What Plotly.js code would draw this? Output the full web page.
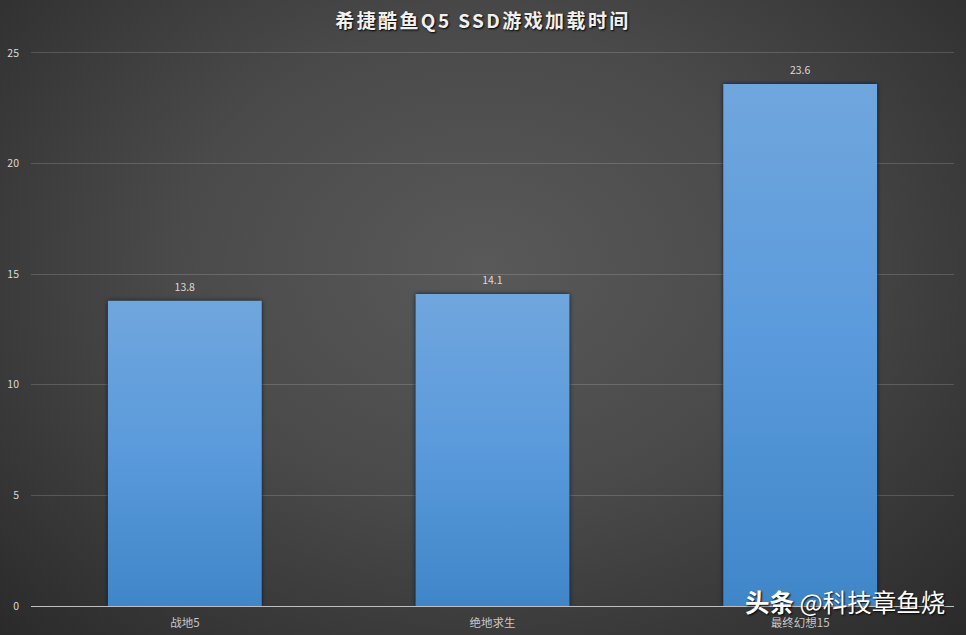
<!DOCTYPE html>
<html>
<head>
<meta charset="utf-8">
<script src="https://cdn.plot.ly/plotly-3.0.1.min.js"></script>
<style>
html,body{margin:0;padding:0;width:966px;height:635px;overflow:hidden;}
body{background:radial-gradient(ellipse farthest-corner at 50% 42%, #595959 0%, #4a4a4a 45%, #2a2a2a 100%);}
#chart{width:966px;height:635px;}
.gtitle, .gtitle tspan{letter-spacing:2.4px !important;}
</style>
</head>
<body>
<div id="chart"></div>
<script>
const categories = ['战地5', '绝地求生', '最终幻想15'];
const loadTimes = [13.8, 14.1, 23.6];
const labels = ['13.8', '14.1', '23.6'];
const yTicks = [0, 5, 10, 15, 20, 25];
const titleText = '希捷酷鱼Q5 SSD游戏加载时间';
const cjk = '"Noto Sans CJK SC", "Noto Sans", sans-serif';

const data = [{
  type: 'bar',
  x: categories,
  y: loadTimes,
  width: 0.5,
  text: labels,
  textposition: 'outside',
  cliponaxis: false,
  textfont: {family: cjk, size: 10.5, color: '#d9d9d9'},
  marker: {color: '#5b9bdb', line: {width: 0}},
  hoverinfo: 'x+y'
}];

const plotL = 31, plotR = 12, plotT = 51, plotB = 28.5;
const plotW = 966 - plotL - plotR, plotH = 635 - plotT - plotB;

const layout = {
  width: 966, height: 635,
  margin: {l: plotL, r: plotR, t: plotT, b: plotB, pad: 0},
  paper_bgcolor: 'rgba(0,0,0,0)',
  plot_bgcolor: 'rgba(0,0,0,0)',
  showlegend: false,
  bargap: 0.5,
  title: {
    text: '<b>' + titleText + '</b>',
    x: 0.5, xanchor: 'center', xref: 'container',
    y: 0.966, yanchor: 'middle',
    font: {family: cjk, size: 19, color: '#f0f0f0', shadow: '1px 1px 2px #000'}
  },
  xaxis: {
    type: 'category',
    showgrid: false,
    showline: true, linecolor: '#bfbfbf', linewidth: 1,
    ticks: '',
    ticklen: 0,
    ticklabelstandoff: 6,
    tickfont: {family: cjk, size: 11.5, color: '#c8c8c8'},
    zeroline: false
  },
  yaxis: {
    range: [0, 25.09],
    tickmode: 'array',
    tickvals: yTicks,
    ticktext: yTicks.map(String),
    showgrid: true, gridcolor: 'rgba(255,255,255,0.16)', gridwidth: 1,
    zeroline: false, showline: false,
    ticks: '',
    ticklabelstandoff: 11,
    tickfont: {family: cjk, size: 10.5, color: '#d9d9d9'}
  },
  annotations: [{
    text: '<b>头条</b> @科技章鱼烧',
    xref: 'paper', yref: 'paper',
    x: (947 - plotL) / plotW, xanchor: 'right',
    y: (606 - 601) / plotH, yanchor: 'middle',
    showarrow: false,
    font: {family: cjk, size: 24.5, color: '#ffffff', shadow: '1px 1px 2px #000'}
  }]
};

function decorate(gd) {
  const svg = gd.querySelector('.main-svg');
  if (!svg.querySelector('#barGrad')) {
    const ns = 'http://www.w3.org/2000/svg';
    const defs = document.createElementNS(ns, 'defs');
    const g = document.createElementNS(ns, 'linearGradient');
    g.setAttribute('id', 'barGrad');
    g.setAttribute('x1', '0'); g.setAttribute('y1', '0');
    g.setAttribute('x2', '0'); g.setAttribute('y2', '1');
    [['0%', '#70a6dd'], ['50%', '#5a9adc'], ['100%', '#3f86c8']].forEach(function (s) {
      const st = document.createElementNS(ns, 'stop');
      st.setAttribute('offset', s[0]);
      st.setAttribute('stop-color', s[1]);
      g.appendChild(st);
    });
    defs.appendChild(g);
    svg.insertBefore(defs, svg.firstChild);
  }
  gd.querySelectorAll('.bars .point path').forEach(function (p) {
    p.style.fill = 'url(#barGrad)';
    p.style.filter = 'drop-shadow(0 0 2px rgba(0,20,40,0.85))';
  });
  // lift the value labels a little above the bars
  gd.querySelectorAll('.bars .point text').forEach(function (t) {
    const tr = t.getAttribute('transform') || '';
    if (tr.indexOf('translate(0,-4)') < 0) t.setAttribute('transform', 'translate(0,-4) ' + tr);
  });
}

Plotly.newPlot('chart', data, layout, {displayModeBar: false, responsive: false}).then(function (gd) {
  decorate(gd);
  gd.on('plotly_afterplot', function () { decorate(gd); });
});
</script>
</body>
</html>
